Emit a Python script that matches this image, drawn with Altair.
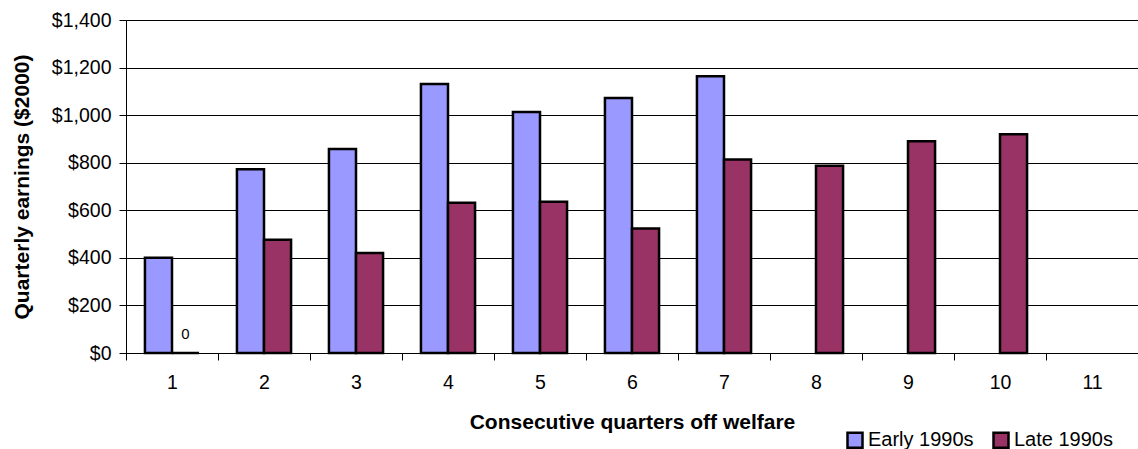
import altair as alt
import pandas as pd

# Quarterly earnings by number of consecutive quarters off welfare
quarters = [str(i) for i in range(1, 12)]
series = ["Early 1990s", "Late 1990s"]
colors = ["#9999FF", "#993366"]
early_1990s = [400, 772, 858, 1131, 1013, 1072, 1163, None, None, None, None]
late_1990s = [0, 476, 420, 632, 636, 523, 813, 787, 890, 920, None]

rows = []
for q, e, l in zip(quarters, early_1990s, late_1990s):
    rows.append({"quarter": q, "series": series[0], "value": e})
    rows.append({"quarter": q, "series": series[1], "value": l})
df = pd.DataFrame(rows)

FONT = "Liberation Sans"

x_enc = alt.X(
    "quarter:N",
    sort=quarters,
    scale=alt.Scale(domain=quarters, paddingInner=0, paddingOuter=0),
    axis=alt.Axis(
        title="Consecutive quarters off welfare",
        labelAngle=0,
        tickBand="extent",
        tickSize=7,
        tickColor="black",
        domainColor="black",
        labelPadding=13,
        labelFontSize=19.5,
        labelColor="black",
        titleFontSize=21,
        titleFontWeight="bold",
        titleColor="black",
        titleY=75,
        titleBaseline="alphabetic",
        grid=False,
    ),
)
xoff_enc = alt.XOffset(
    "series:N",
    sort=series,
    scale=alt.Scale(domain=series, paddingInner=0, paddingOuter=0.7),
)
y_enc = alt.Y(
    "value:Q",
    scale=alt.Scale(domain=[0, 1400], nice=False),
    axis=alt.Axis(
        title="Quarterly earnings ($2000)",
        values=list(range(0, 1401, 200)),
        format="$,.0f",
        tickSize=7,
        tickColor="black",
        domainColor="black",
        gridColor="black",
        gridOpacity=1,
        labelPadding=8,
        labelFontSize=19.5,
        labelColor="black",
        titleFontSize=21,
        titleFontWeight="bold",
        titleColor="black",
        titleX=-98,
        titleBaseline="alphabetic",
    ),
)

base = alt.Chart(df).transform_filter("datum.value != null")

bars = base.mark_bar(stroke="black", strokeWidth=2.5).encode(
    x=x_enc,
    xOffset=xoff_enc,
    y=y_enc,
    color=alt.Color(
        "series:N",
        sort=series,
        scale=alt.Scale(domain=series, range=colors),
        legend=alt.Legend(
            title=None,
            orient="none",
            legendX=719,
            legendY=410,
            direction="horizontal",
            symbolType="square",
            symbolSize=225,
            symbolStrokeColor="black",
            symbolStrokeWidth=2.5,
            symbolOpacity=1,
            labelFontSize=20,
            labelColor="black",
            labelOffset=3,
            columnPadding=14,
        ),
    ),
)

zero_labels = base.transform_filter("datum.value == 0").mark_text(
    baseline="bottom", dy=-11, fontSize=15, color="black"
).encode(
    x=alt.X("quarter:N", sort=quarters),
    xOffset=alt.XOffset("series:N", sort=series),
    y=alt.Y("value:Q"),
    text=alt.Text("value:Q", format="d"),
)

chart = (
    alt.layer(bars, zero_labels)
    .properties(
        width=1012,
        height=333,
        autosize=alt.AutoSizeParams(type="none"),
        padding={"left": 126, "top": 20, "right": 0, "bottom": 96},
    )
    .configure(font=FONT)
    .configure_view(strokeWidth=0)
)

chart.save("out.html", embed_options={"renderer": "svg", "actions": False})
